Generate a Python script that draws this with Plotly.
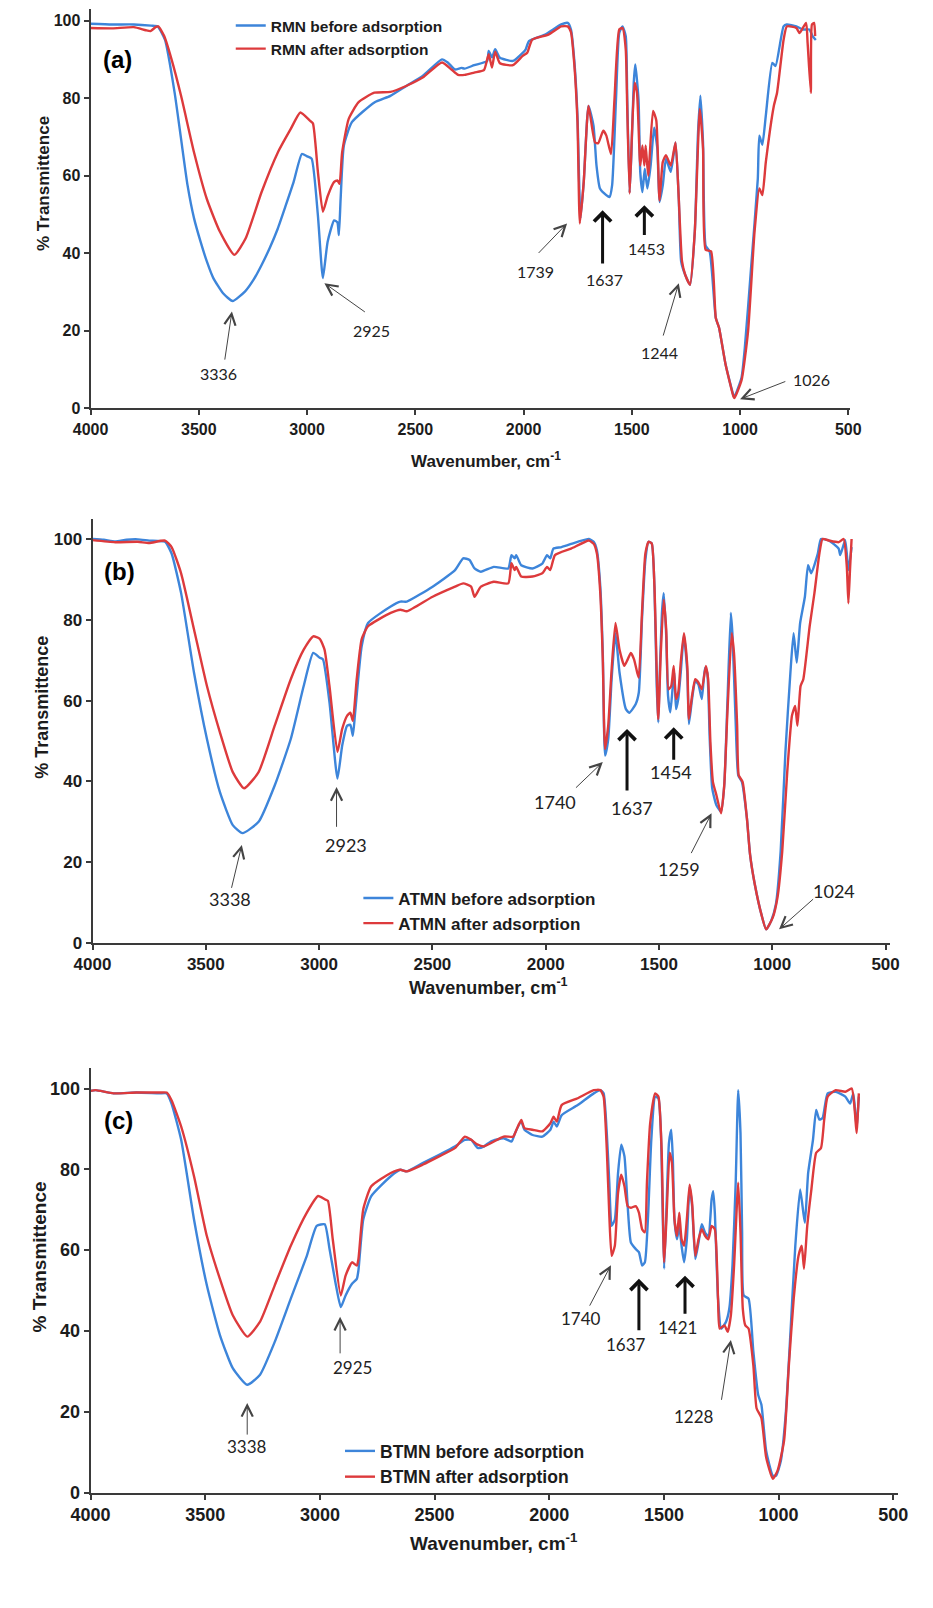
import plotly.graph_objects as go

# ---------------- DATA ----------------
# Panel (a) RMN
a_before_wn = [4000,3900,3800,3720,3690,3656,3612,3582,3552,3522,3492,3463,3433,3388,3344,3286,3247,3210,3173,3135,3098,3062,3024,3000,2979,2950,2927,2905,2875,2860,2853,2845,2830,2793,2689,2615,2540,2466,2377,2350,2317,2287,2272,2228,2168,2161,2146,2131,2109,2049,2004,1990,1975,1900,1826,1796,1781,1766,1751,1737,1722,1700,1677,1663,1647,1618,1603,1591,1573,1558,1543,1528,1521,1510,1501,1491,1484,1469,1461,1451,1440,1428,1413,1397,1382,1372,1357,1342,1320,1298,1283,1272,1253,1231,1209,1194,1183,1171,1159,1140,1112,1097,1067,1030,1026,993,978,948,918,911,897,881,851,836,799,784,740,710,680,665,650]
a_before_T = [99.2,99.0,99.0,98.7,98.5,95,81.5,69.5,57.5,49,43,37.9,33.6,29.7,27.7,30.2,33.2,37,41.3,46.4,52.4,58.4,65.6,65,64.4,49.8,33.6,43,48.5,48,44.7,54,67.8,73.8,78.9,80.6,83.2,85.7,90,89.2,87.4,87.8,87.6,88.5,89.6,92.2,90.5,92.6,90.4,89.6,91.7,92.6,94.7,96.4,99,99.4,97.7,90,75.5,49,58.4,78,72.9,62.6,56.7,55,54.5,57.5,79.7,96.8,98.5,96,79.7,55.6,67,84,88.7,79.7,61,55.8,61.8,56.7,62.6,72.4,67,53.2,57.5,64.4,61,68.6,54,37.9,34.4,31.9,45.6,71.2,80.6,68.6,42,40.4,23.3,20.8,11.4,3.3,3,8,15.6,37,59.2,70.3,68,75.5,89.1,88.3,98.5,99,98.5,97.7,97.7,96,95]
a_after_wn = [4000,3900,3800,3745,3723,3700,3687,3660,3626,3582,3522,3463,3403,3336,3284,3210,3135,3076,3031,2987,2973,2950,2927,2905,2875,2860,2850,2838,2808,2763,2689,2615,2540,2466,2377,2333,2302,2272,2228,2183,2161,2146,2131,2109,2049,2004,1983,1960,1885,1826,1796,1781,1766,1751,1740,1722,1700,1670,1655,1632,1618,1596,1580,1558,1543,1528,1521,1510,1499,1487,1476,1461,1451,1442,1436,1424,1402,1387,1372,1357,1342,1320,1298,1283,1268,1253,1231,1209,1186,1171,1159,1134,1112,1097,1067,1030,1026,993,963,933,911,897,881,844,829,799,784,740,725,695,688,673,668,658,653]
a_after_T = [98.1,98,98.3,97.5,97.3,98.3,98.5,96,90,80.6,66,54,45.6,39.6,43.8,55.8,66,72,76.3,74.2,73.5,61,50.7,54.7,58.4,58.8,57.9,66,74.6,78.9,81.4,81.6,83.2,85.3,89.2,87.4,86,86,86.6,87.2,91.3,87.9,92,89,88.5,90.9,91.7,95.1,96.4,98.5,98.5,97,89,74,47.7,58.4,78,68.6,68.4,71.6,70.4,65.6,79.7,97.7,98.1,92.6,77,55.4,71.2,84,81.4,62.6,67.8,62.6,67.8,60,76.7,74.3,53.6,63.5,65.3,62.6,68.6,54,37.9,34.4,31.9,45.6,77.2,67,40.9,40.5,23.3,20.8,11.4,3,2.7,7.3,19.9,45.6,56.7,55,63.5,78,81.4,95,98.5,98.1,96.8,99.4,94.3,81.4,99,99.4,96]

# Panel (b) ATMN
b_before_wn = [4000,3950,3900,3850,3800,3750,3680,3651,3609,3552,3495,3438,3381,3338,3267,3196,3125,3068,3026,2997,2983,2954,2919,2898,2876,2862,2851,2841,2812,2784,2684,2641,2613,2499,2400,2364,2336,2314,2286,2229,2165,2151,2137,2130,2108,2058,2015,1994,1980,1966,1930,1859,1809,1788,1774,1759,1748,1738,1724,1709,1692,1674,1646,1631,1603,1589,1575,1560,1546,1532,1520,1510,1503,1496,1486,1479,1468,1460,1450,1439,1432,1425,1415,1404,1390,1375,1368,1354,1340,1326,1311,1297,1287,1276,1265,1247,1226,1212,1198,1183,1176,1162,1150,1134,1112,1098,1077,1048,1027,1005,984,963,942,920,906,892,877,856,842,828,799,785,749,707,700,678,664,650]
b_before_T = [100,99.8,99.4,99.8,99.9,99.6,99.3,96.4,86.6,66.9,50.5,37.4,29.2,27.2,30,39,50.5,63.6,71.8,70.6,70.2,59.5,40.7,48.9,53.8,54,51.3,57,73.5,79.2,83.3,84.5,84.5,88.2,92.3,95.2,94.8,92.7,91.9,93.1,92.7,96,95.2,96,93.5,92.7,93.9,96,95.2,97.6,98,99.3,100,99.3,97.2,88.2,71.8,46.4,50.5,65.3,76.7,66.9,57.9,57,59.1,62,80,94.8,99.3,98.9,88.2,63.6,54.6,67.7,82.5,86.6,75.9,61.2,57.1,63.6,66.9,57.9,60.4,66.9,76.3,66.9,54.2,60.4,64.9,64,60.4,68.1,66.9,50.5,38.3,34.2,32.5,39,59.5,81.7,76.7,55.4,41.5,39.9,30.9,21.9,14.5,7.1,3.4,5.5,9.6,22.7,47.3,66.9,76.7,69.4,79.2,85.7,93.5,91.5,96.4,100,99.6,97.6,96,99.7,92.3,98]
b_after_wn = [4000,3900,3800,3750,3680,3651,3609,3552,3495,3438,3381,3331,3267,3196,3125,3068,3026,2997,2976,2954,2919,2898,2876,2862,2851,2834,2812,2784,2684,2641,2613,2499,2400,2364,2329,2314,2286,2229,2165,2151,2137,2130,2108,2058,2015,1994,1980,1959,1888,1809,1788,1774,1759,1748,1738,1724,1709,1692,1674,1653,1638,1624,1610,1596,1589,1575,1560,1546,1532,1520,1503,1492,1479,1468,1458,1446,1435,1425,1415,1404,1390,1375,1368,1354,1340,1326,1311,1293,1283,1273,1262,1247,1226,1212,1198,1179,1169,1155,1148,1131,1112,1098,1077,1048,1027,998,977,956,934,913,899,889,875,863,835,814,792,778,749,707,685,671,664,657,650]
b_after_T = [99.7,99.2,99.3,99,99.6,98,91.5,77.6,63.6,52.2,42.3,38.3,42.3,53.8,65.3,72.6,75.9,75.3,72.6,63.5,47.3,53,56.3,57,55,65.3,75.2,78.4,81.7,82.5,82.1,85.7,88.2,89,88.2,85.7,88.2,89.4,89,94,92.3,93.1,90.7,90.7,91.5,93.1,92.3,96,97.6,99.6,98.8,96.4,86.6,70.2,48,53.8,67.7,79.2,72.6,68.6,70.2,71.8,70.2,66.9,65.7,81.7,96.4,99.3,98.9,88.2,55.4,71.8,85,77.6,62.8,63.6,68.6,60.4,62,69.4,76.7,68.6,55.4,61.2,65.3,64.5,62.8,68.6,65.3,49.7,39.9,36.7,32.1,39,57,76.7,71.8,53.8,41.5,39.9,30.9,21.9,14.5,7.1,3.4,6.3,11.3,22.7,42.3,56.3,58.7,53.8,63.6,65.3,78.4,86.6,96.4,100,99.6,99.2,100,93.1,84.1,92.3,100]

# Panel (c) BTMN
c_before_wn = [4000,3978,3900,3800,3700,3668,3647,3605,3549,3493,3436,3380,3317,3261,3197,3127,3057,3014,2979,2958,2930,2909,2888,2860,2839,2832,2811,2776,2691,2649,2621,2550,2480,2410,2368,2340,2312,2284,2255,2199,2164,2150,2122,2108,2073,2030,1995,1981,1967,1946,1876,1806,1777,1763,1749,1738,1728,1714,1700,1686,1672,1658,1644,1623,1609,1595,1583,1569,1555,1538,1524,1513,1506,1499,1489,1478,1468,1461,1454,1443,1433,1423,1412,1400,1388,1377,1363,1349,1335,1320,1306,1292,1285,1278,1264,1250,1229,1215,1201,1187,1176,1166,1159,1152,1131,1110,1089,1075,1054,1025,1011,990,969,948,927,906,892,885,871,850,836,822,808,786,751,709,688,674,660,650]
c_before_T = [99.4,99.6,98.8,99,98.8,98.8,96.3,87.3,67.6,51.3,39,30.8,26.7,29.2,37.3,48,58.6,66,66.4,60.3,51.3,45.9,48.8,51.7,52.9,55,67.6,73.4,78.3,79.9,79.5,81.6,83.6,85.7,87.3,87.3,85.3,85.7,86.9,87.7,86.9,88.9,91.8,89.8,88.5,88.1,89.8,91.8,90.6,93.4,95.9,98.8,99.6,98.8,88.9,76.7,66,67.6,79.1,86.1,83.2,70.9,61.9,60.3,59.5,56.2,57,68.5,87.3,98,97.6,88.9,70.9,55.4,70.1,86.5,89.8,82.4,67.6,62.7,66,61.1,57,62.7,75.8,70.9,57.8,61.9,66.4,64.3,63.5,72.6,74.6,69.3,48,40.6,42.3,45.5,56.2,76.7,99.6,88.9,64.4,48.8,48,34.9,24.2,21.8,10.3,4.2,4.2,7.9,19.3,39.8,61.1,75,69.3,66.8,79.1,87.3,94.7,92.3,92.7,98.8,99.2,98,96.3,98.8,90.6,98]
c_after_wn = [4000,3978,3900,3800,3700,3668,3647,3605,3549,3493,3436,3380,3317,3261,3197,3127,3057,3008,2979,2965,2944,2909,2888,2860,2839,2832,2811,2776,2691,2649,2621,2550,2480,2410,2368,2340,2312,2284,2199,2157,2143,2122,2108,2073,2030,1995,1981,1967,1946,1876,1806,1777,1763,1749,1738,1728,1714,1700,1686,1672,1658,1644,1623,1609,1595,1583,1574,1560,1538,1524,1510,1499,1489,1475,1465,1454,1443,1433,1423,1412,1400,1388,1377,1363,1349,1335,1320,1306,1292,1278,1264,1257,1236,1222,1208,1194,1176,1166,1156,1145,1131,1110,1096,1075,1054,1025,1004,976,955,934,913,899,889,875,857,836,815,801,786,751,709,681,667,660,650]
c_after_T = [99.4,99.6,98.8,99,99,99,97.1,90.6,78.3,63.5,52.9,43.9,38.6,42.3,51.3,61.1,69.3,73.4,72.6,72.2,62.7,48.8,53.7,57,56.2,57.8,70.1,75.8,79.1,79.9,79.5,81.2,83.2,85.3,88.1,87.3,86.1,85.7,88.1,88.1,89.8,92.2,90.2,89.8,89.4,91.4,93,91.8,95.9,97.6,99.6,99.6,98,84.9,68.5,58.6,61.1,74.2,78.7,75.8,70.9,70.5,70.9,69.3,65.2,64.4,76.7,91.4,98.8,98,84.9,57,67.6,84.1,81.6,67.6,63.5,69.3,62.7,61.1,67.6,76.2,71.7,58.6,62.7,65.2,63.5,62.7,66,65.2,48,40.6,41.4,39.8,43.9,56.2,76.7,64.4,45.5,41.4,40.6,31.5,20.9,18.5,8.7,3.4,5.5,12.9,31.6,48,58.6,61.1,55.4,66,75,84.1,85.3,92.3,98,99.6,99.2,100,93.9,89,98.8]

series_names = {
    "a": ["RMN before adsorption", "RMN after adsorption"],
    "b": ["ATMN before adsorption", "ATMN after adsorption"],
    "c": ["BTMN before adsorption", "BTMN after adsorption"],
}
x_ticks = [4000, 3500, 3000, 2500, 2000, 1500, 1000, 500]
y_ticks = [0, 20, 40, 60, 80, 100]

# peak label, text position, arrow tail, arrow tip, bold arrow?
a_peaks = [("3336", (3408, 9), (3381, 12.2), (3347, 25), False),
           ("2925", (2704, 20.2), (2726, 24.6), (2920, 32.3), False),
           ("1739", (1945, 35.3), (1937, 39.7), (1799, 47.7), False),
           ("1637", (1628, 33.2), (1635, 37), (1635, 51.1), True),
           ("1453", (1432, 41.3), (1442, 44.3), (1442, 52.4), True),
           ("1244", (1372, 14.4), (1357, 18.4), (1283, 32.3), False),
           ("1026", (668, 7.5), (784, 7.1), (1000, 2.4), False)]
b_peaks = [("3338", (3395, 10.8), (3388, 13.3), (3341, 24.3), False),
           ("2923", (2883, 24.2), (2923, 28.4), (2923, 38.6), False),
           ("1740", (1961, 34.8), (1873, 38.1), (1748, 44.8), False),
           ("1637", (1620, 33.5), (1641, 37.4), (1641, 53), True),
           ("1454", (1446, 42.3), (1435, 45), (1435, 53.4), True),
           ("1259", (1411, 18.4), (1361, 21.9), (1268, 32.1), False),
           ("1024", (728, 12.9), (813, 11.2), (970, 3.4), False)]
c_peaks = [("3338", (3317, 11.5), (3317, 14), (3317, 22.2), False),
           ("2925", (2860, 31), (2912, 34.1), (2912, 43.5), False),
           ("1740", (1862, 43.1), (1827, 45.9), (1731, 56.3), False),
           ("1637", (1665, 36.7), (1609, 39.8), (1609, 52.9), True),
           ("1421", (1440, 40.8), (1408, 43.9), (1408, 53.7), True),
           ("1228", (1367, 18.9), (1250, 22.6), (1208, 37.8), False)]

# ---------------- STYLE / LAYOUT ----------------
W, H = 933, 1608
BLUE = "#3D85DA"
RED = "#DD3A3C"
AXC = "#3a3a3a"
TXT = "#1c1c1c"

def px(v):
    return v / W

def py(v):
    return 1 - v / H

panels = [
    dict(key="a", data=(a_before_wn, a_before_T, a_after_wn, a_after_T), peaks=a_peaks,
         xd=[px(73), px(859)], xr=[4000, 490], yd=[py(411), py(9)], yr=[0, 103],
         tick=16, title=17, peakf=16, legf=15.5, leg=(218, 9),
         label=(101, 60), xt=(482, 463), yt=(25, 185)),
    dict(key="b", data=(b_before_wn, b_before_T, b_after_wn, b_after_T), peaks=b_peaks,
         xd=[px(75), px(900)], xr=[4000, 480], yd=[py(949), py(522)], yr=[0, 105],
         tick=17, title=18, peakf=18, legf=17, leg=(350, 886),
         label=(103, 575), xt=(485, 993), yt=(22, 712)),
    dict(key="c", data=(c_before_wn, c_before_T, c_after_wn, c_after_T), peaks=c_peaks,
         xd=[px(73), px(908)], xr=[4000, 480], yd=[py(1502), py(1075)], yr=[0, 105],
         tick=18, title=19, peakf=17, legf=17.5, leg=(331, 1442),
         label=(102, 1128), xt=(490, 1552), yt=(20, 1265)),
]

fig = go.Figure()
layout = dict(width=W, height=H, margin=dict(l=0, r=0, t=0, b=0),
              paper_bgcolor="white", plot_bgcolor="white", showlegend=True)
annotations = []

for i, p in enumerate(panels):
    n = "" if i == 0 else str(i + 1)
    xa, ya = "x" + n, "y" + n
    legname = "legend" + n
    bwn, bT, awn, aT = p["data"]
    names = series_names[p["key"]]
    fig.add_trace(go.Scatter(x=bwn, y=bT, mode="lines", name=names[0],
                             line=dict(color=BLUE, width=2.4, shape="spline", smoothing=0.5),
                             xaxis=xa, yaxis=ya, legend=legname))
    fig.add_trace(go.Scatter(x=awn, y=aT, mode="lines", name=names[1],
                             line=dict(color=RED, width=2.4, shape="spline", smoothing=0.5),
                             xaxis=xa, yaxis=ya, legend=legname))
    layout["xaxis" + n] = dict(domain=p["xd"], range=p["xr"], anchor=ya,
                               tickvals=x_ticks, showline=True, linecolor=AXC, linewidth=2,
                               ticks="outside", ticklen=5, tickwidth=1.5, tickcolor=AXC,
                               showgrid=False, zeroline=False,
                               tickfont=dict(family="Liberation Sans, Arial", size=p["tick"],
                                             color=TXT, weight="bold"))
    layout["yaxis" + n] = dict(domain=p["yd"], range=p["yr"], anchor=xa,
                               tickvals=y_ticks, showline=True, linecolor=AXC, linewidth=2,
                               ticks="outside", ticklen=5, tickwidth=1.5, tickcolor=AXC,
                               showgrid=False, zeroline=False,
                               tickfont=dict(family="Liberation Sans, Arial", size=p["tick"],
                                             color=TXT, weight="bold"))
    layout[legname] = dict(x=px(p["leg"][0]), y=py(p["leg"][1]), xanchor="left", yanchor="top",
                           bgcolor="rgba(0,0,0,0)", borderwidth=0, itemwidth=30,
                           font=dict(family="Liberation Sans, Arial", size=p["legf"],
                                     color=TXT, weight="bold"))
    # panel label
    annotations.append(dict(text="(" + p["key"] + ")", xref="paper", yref="paper",
                            x=px(p["label"][0]), y=py(p["label"][1]), showarrow=False,
                            xanchor="center", yanchor="middle",
                            font=dict(family="Liberation Sans, Arial", size=24, color="#000",
                                      weight="bold")))
    # axis titles
    annotations.append(dict(text="Wavenumber, cm<sup>-1</sup>", xref="paper", yref="paper",
                            x=px(p["xt"][0]), y=py(p["xt"][1]), showarrow=False,
                            xanchor="center", yanchor="middle",
                            font=dict(family="Liberation Sans, Arial", size=p["title"],
                                      color=TXT, weight="bold")))
    annotations.append(dict(text="% Transmittence", xref="paper", yref="paper",
                            x=px(p["yt"][0]), y=py(p["yt"][1]), showarrow=False, textangle=-90,
                            xanchor="center", yanchor="middle",
                            font=dict(family="Liberation Sans, Arial", size=p["title"],
                                      color=TXT, weight="bold")))
    # peak labels + arrows
    for lab, tpos, tail, tip, bold in p["peaks"]:
        annotations.append(dict(text=lab, xref=xa, yref=ya, x=tpos[0], y=tpos[1],
                                showarrow=False, xanchor="center", yanchor="middle",
                                font=dict(family="Lato, Open Sans", size=p["peakf"], color="#222")))
        annotations.append(dict(text="", xref=xa, yref=ya, x=tip[0], y=tip[1],
                                axref=xa, ayref=ya, ax=tail[0], ay=tail[1], showarrow=True,
                                arrowhead=4 if bold else 5,
                                arrowsize=1.1 if bold else 2.2,
                                arrowwidth=3 if bold else 1,
                                arrowcolor="#111" if bold else "#444",
                                standoff=0, startstandoff=0))

layout["annotations"] = annotations
fig.update_layout(**layout)
fig.write_html("out.html")
